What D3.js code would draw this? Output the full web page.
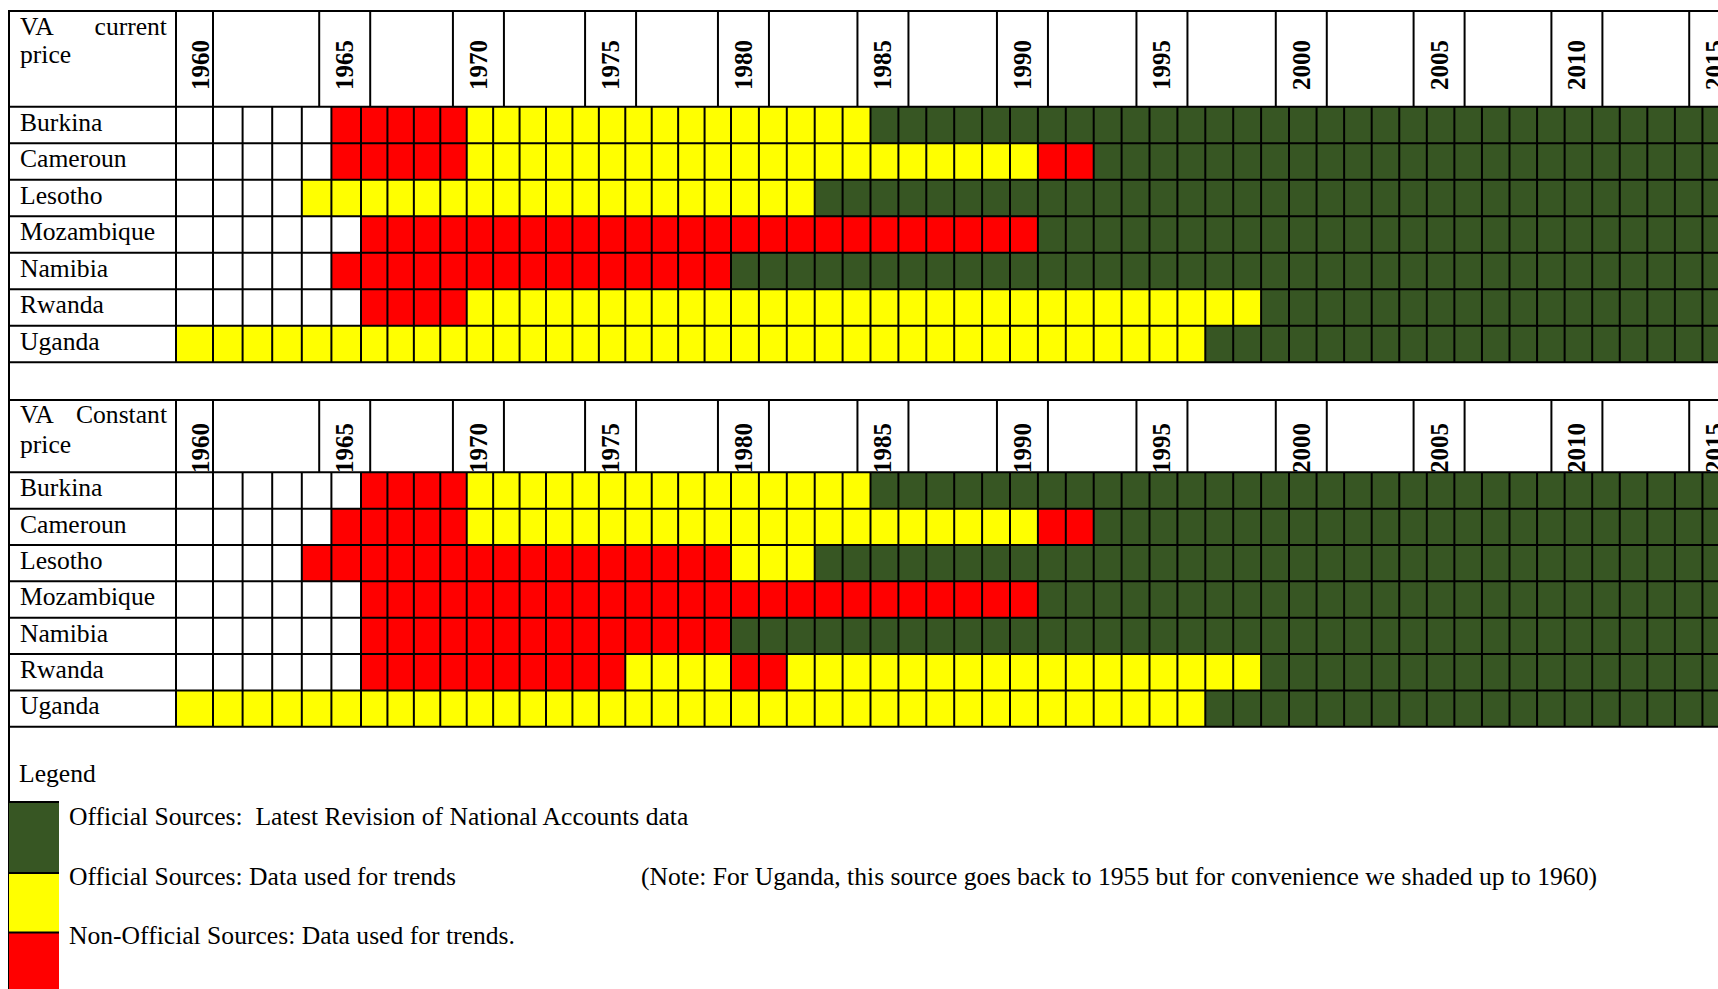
<!DOCTYPE html>
<html><head><meta charset="utf-8">
<script src="https://cdn.jsdelivr.net/npm/d3@7"></script>
<style>html,body{margin:0;padding:0;background:#fff;overflow:hidden}</style>
</head><body><svg id="chart" width="1718" height="989"></svg>
<script>
// ---------------- DATA ----------------
const years = d3.range(1960, 2016);                 // one column per year, 1960..2015
const yearLabels = [1960, 1965, 1970, 1975, 1980, 1985, 1990, 1995, 2000, 2005, 2010, 2015];
const countries = ["Burkina", "Cameroun", "Lesotho", "Mozambique", "Namibia", "Rwanda", "Uganda"];

// status codes: "." no data, "N" non-official (red), "T" official, used for trends (yellow),
// "L" official, latest revision (green). Run-length: [code, number of years] from 1960.
const currentPriceRuns = [
  [[".", 5], ["N", 5], ["T", 15], ["L", 31]],            // Burkina
  [[".", 5], ["N", 5], ["T", 21], ["N", 2], ["L", 23]],  // Cameroun
  [[".", 4], ["T", 19], ["L", 33]],                      // Lesotho
  [[".", 6], ["N", 25], ["L", 25]],                      // Mozambique
  [[".", 5], ["N", 15], ["L", 36]],                      // Namibia
  [[".", 6], ["N", 4], ["T", 29], ["L", 17]],            // Rwanda
  [["T", 37], ["L", 19]]                                 // Uganda
];
const constantPriceRuns = [
  [[".", 6], ["N", 4], ["T", 15], ["L", 31]],            // Burkina
  [[".", 5], ["N", 5], ["T", 21], ["N", 2], ["L", 23]],  // Cameroun
  [[".", 4], ["N", 16], ["T", 3], ["L", 33]],            // Lesotho
  [[".", 6], ["N", 25], ["L", 25]],                      // Mozambique
  [[".", 6], ["N", 14], ["L", 36]],                      // Namibia
  [[".", 6], ["N", 10], ["T", 4], ["N", 2], ["T", 17], ["L", 17]], // Rwanda
  [["T", 37], ["L", 19]]                                 // Uganda
];
const panelTitles = [["VA", "current", "price"], ["VA", "Constant", "price"]];
const legendCodes = ["L", "T", "N"];
const legendLabels = [
  "Official Sources:  Latest Revision of National Accounts data",
  "Official Sources: Data used for trends",
  "Non-Official Sources: Data used for trends."
];
const legendTitle = "Legend";
const noteText = "(Note: For Uganda, this source goes back to 1955 but for convenience we shaded up to 1960)";

// ---------------- LAYOUT ----------------
const W = 1718, H = 989;
const frameLeft = 9, gridLeft = 176;
const serif = "'Liberation Serif', 'Times New Roman', serif";
const fs = 25.6;
const svg = d3.select("#chart");

const x = d3.scaleLinear()
  .domain([1960, 1961, 1966, 1980, 2000, 2016])
  .range([gridLeft, 213, 361, 731, 1289, 1730]);
const color = d3.scaleOrdinal()
  .domain([".", "N", "T", "L"])
  .range(["#ffffff", "#ff0000", "#ffff00", "#375623"]);

function expand(runs) {
  const out = [];
  runs.forEach(([c, n]) => { for (let i = 0; i < n; i++) out.push(c); });
  return out;
}

const panels = [
  { titles: panelTitles[0], runs: currentPriceRuns, top: 11, headerH: 95.7, rowH: 36.5, labelBase: 90, t1: 24, t2: 52 },
  { titles: panelTitles[1], runs: constantPriceRuns, top: 400, headerH: 72.3, rowH: 36.35, labelBase: 473, t1: 23, t2: 53 }
];

panels.forEach(p => {
  const g = svg.append("g");
  const bodyTop = p.top + p.headerH;
  const bodyBot = bodyTop + p.rowH * countries.length;
  const yb = d3.scaleBand().domain(countries).range([bodyTop, bodyBot]);

  // cells
  countries.forEach((c, i) => {
    const codes = expand(p.runs[i]);
    g.selectAll(null).data(years.map((yr, j) => ({ yr, code: codes[j] })))
      .join("rect")
      .attr("x", d => x(d.yr)).attr("width", d => x(d.yr + 1) - x(d.yr))
      .attr("y", yb(c)).attr("height", yb.bandwidth())
      .attr("fill", d => color(d.code));
  });

  // header cells
  const hcells = yearLabels.map((yr, k) => {
    const cx = (x(yr) + x(yr + 1)) / 2;
    const x0 = k === 0 ? x(yr) : cx - 27;
    const x1 = k === 0 ? x(yr + 1) : cx + 24;
    return { yr, x0, x1, cx: k === 0 ? cx + 6 : (x0 + x1) / 2 };
  });
  g.selectAll(null).data(hcells).join("text")
    .attr("transform", d => `translate(${d.cx},${p.labelBase}) rotate(-90)`)
    .attr("dy", "0.34em")
    .attr("font-family", serif).attr("font-weight", "bold").attr("font-size", 25)
    .attr("fill", "#000")
    .text(d => d.yr);

  // lines
  const L = g.append("g").attr("stroke", "#000").attr("stroke-width", 2);
  const hy = [p.top, ...countries.map(c => yb(c)), bodyBot];
  L.selectAll(null).data(hy).join("line")
    .attr("x1", frameLeft).attr("x2", W).attr("y1", d => d).attr("y2", d => d);
  L.append("line").attr("x1", gridLeft).attr("x2", gridLeft).attr("y1", p.top).attr("y2", bodyBot);
  L.selectAll(null).data(years.concat([2016])).join("line")
    .attr("x1", d => x(d)).attr("x2", d => x(d)).attr("y1", bodyTop).attr("y2", bodyBot);
  const hx = [];
  hcells.forEach(d => { hx.push(d.x0, d.x1); });
  L.selectAll(null).data(hx).join("line")
    .attr("x1", d => d).attr("x2", d => d).attr("y1", p.top).attr("y2", bodyTop);

  // title
  const tg = g.append("g").attr("font-family", serif).attr("font-size", fs).attr("fill", "#000");
  tg.append("text").attr("x", 20).attr("y", p.top + p.t1).text(p.titles[0]);
  tg.append("text").attr("x", 167).attr("y", p.top + p.t1).attr("text-anchor", "end").text(p.titles[1]);
  tg.append("text").attr("x", 20).attr("y", p.top + p.t2).text(p.titles[2]);

  // row labels
  tg.selectAll(null).data(countries).join("text")
    .attr("x", 20).attr("y", d => yb(d) + 24).text(d => d);
});

// left frame line
svg.append("line").attr("x1", frameLeft).attr("x2", frameLeft).attr("y1", 10).attr("y2", H)
  .attr("stroke", "#000").attr("stroke-width", 2);

// ---------------- LEGEND ----------------
const lg = svg.append("g").attr("font-family", serif).attr("font-size", fs).attr("fill", "#000");
lg.append("text").attr("x", 19).attr("y", 782).text(legendTitle);
const ly = d3.scalePoint().domain(legendCodes).range([825, 944]);
const sqTop = (c, i) => i === 0 ? 802 : ly(c) - 11.5;
const sqBot = i => i === legendCodes.length - 1 ? H : ly(legendCodes[i + 1]) - 11.5;
legendCodes.forEach((c, i) => {
  lg.append("rect").attr("x", frameLeft).attr("width", 50)
    .attr("y", sqTop(c, i)).attr("height", sqBot(i) - sqTop(c, i))
    .attr("fill", color(c));
  lg.append("line").attr("x1", frameLeft - 1).attr("x2", frameLeft + 50)
    .attr("y1", sqTop(c, i)).attr("y2", sqTop(c, i)).attr("stroke", "#000").attr("stroke-width", 2);
  lg.append("text").attr("x", 69).attr("y", ly(c)).style("white-space", "pre").text(legendLabels[i]);
});
lg.append("text").attr("x", 641).attr("y", ly("T")).text(noteText);
</script></body></html>
